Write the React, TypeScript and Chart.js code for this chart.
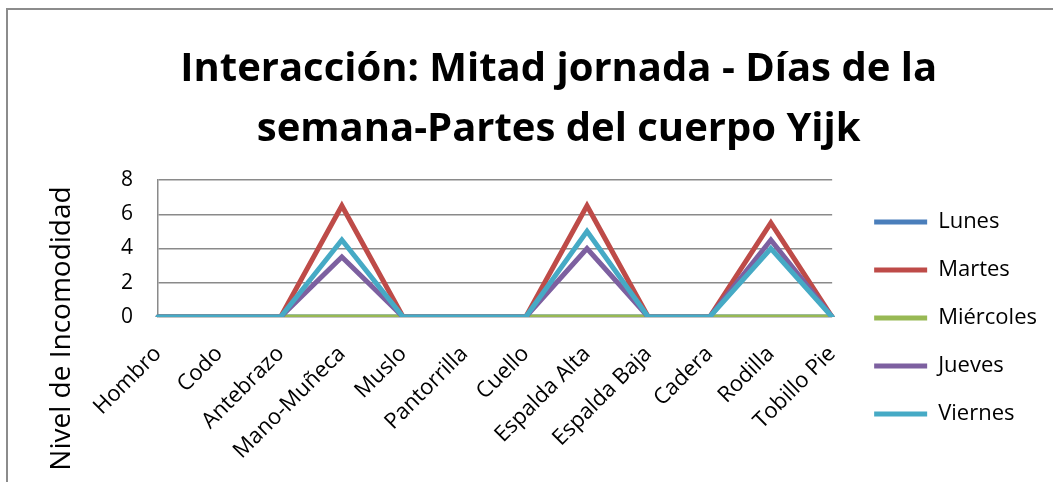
import React, { useEffect, useRef } from "react";
import { Chart, registerables } from "chart.js";

Chart.register(...registerables);

const categories = [
  "Hombro",
  "Codo",
  "Antebrazo",
  "Mano-Muñeca",
  "Muslo",
  "Pantorrilla",
  "Cuello",
  "Espalda Alta",
  "Espalda Baja",
  "Cadera",
  "Rodilla",
  "Tobillo Pie",
];

const lunes = [0, 0, 0, 0, 0, 0, 0, 0, 0, 0, 0, 0];
const martes = [0, 0, 0, 6.5, 0, 0, 0, 6.5, 0, 0, 5.5, 0];
const miercoles = [0, 0, 0, 0, 0, 0, 0, 0, 0, 0, 0, 0];
const jueves = [0, 0, 0, 3.5, 0, 0, 0, 4, 0, 0, 4.5, 0];
const viernes = [0, 0, 0, 4.5, 0, 0, 0, 5, 0, 0, 4, 0];

const seriesNames = ["Lunes", "Martes", "Miércoles", "Jueves", "Viernes"];
const seriesValues = [lunes, martes, miercoles, jueves, viernes];
const seriesColors = ["#4A7EBB", "#BE4B48", "#98B954", "#7D60A0", "#46AAC5"];

const yMin = 0;
const yMax = 8;
const yStep = 2;

const titleLines = ["Interacción: Mitad jornada - Días de la", "semana-Partes del cuerpo Yijk"];
const yAxisTitle = "Nivel de Incomodidad";

const FONT = "'Open Sans', Lato, sans-serif";

export default function App() {
  const canvasRef = useRef<HTMLCanvasElement | null>(null);

  useEffect(() => {
    if (!canvasRef.current) return;
    const n = seriesNames.length;
    const chart = new Chart(canvasRef.current, {
      type: "line",
      data: {
        labels: categories,
        datasets: seriesNames.map((name, i) => ({
          label: name,
          data: seriesValues[i],
          borderColor: seriesColors[i],
          backgroundColor: seriesColors[i],
          borderWidth: 5,
          borderJoinStyle: "miter" as const,
          borderCapStyle: "round" as const,
          pointRadius: 0,
          pointHoverRadius: 0,
          pointBorderWidth: 5,
          pointBorderColor: seriesColors[i],
          pointBackgroundColor: seriesColors[i],
          tension: 0,
          fill: false,
          order: n - 1 - i,
        })),
      },
      options: {
        responsive: false,
        animation: false,
        events: [],
        layout: { padding: { left: 0, right: 6, top: 0, bottom: 0 } },
        plugins: {
          title: {
            display: true,
            text: titleLines.map((t) => " ".repeat(6) + t),
            color: "#000",
            font: { family: FONT, size: 40, weight: "bold", lineHeight: 1.5 },
            padding: { top: 30, bottom: 20 },
          },
          legend: {
            display: true,
            position: "right",
            align: "start",
            reverse: true,
            maxWidth: 320,
            title: {
              display: true,
              text: "",
              font: { family: FONT, size: 10, lineHeight: 1.2 },
              padding: { top: 163, bottom: 0 },
            },
            labels: {
              usePointStyle: true,
              pointStyle: "line",
              pointStyleWidth: 53,
              boxHeight: 22,
              color: "#000",
              padding: 26,
              font: { family: FONT, size: 22 },
            },
          },
          tooltip: { enabled: false },
        },
        scales: {
          x: {
            type: "category",
            grid: { display: false, drawTicks: false },
            border: { display: false },
            ticks: {
              autoSkip: false,
              maxRotation: 45,
              minRotation: 45,
              color: "#000",
              padding: 24,
              font: { family: FONT, size: 22 },
            },
            afterFit: (s: any) => {
              s.height = 165;
            },
          },
          y: {
            type: "linear",
            min: yMin,
            max: yMax,
            ticks: {
              stepSize: yStep,
              color: "#000",
              padding: 25,
              font: { family: FONT, size: 21 },
            },
            grid: { color: "#8a8a8a", lineWidth: 1.5, drawTicks: false },
            border: { display: true, color: "#8a8a8a", width: 1.5 },
            title: {
              display: true,
              text: yAxisTitle + " ".repeat(22),
              color: "#000",
              font: { family: FONT, size: 28 },
              padding: { top: 37, bottom: 0 },
            },
            afterFit: (s: any) => {
              s.width = 150;
            },
          },
          yR: {
            type: "linear",
            position: "right",
            display: true,
            grid: { display: false, drawTicks: false },
            border: { display: false },
            ticks: { display: false },
            afterFit: (s: any) => {
              s.width = 16;
            },
          },
        },
      },
    });
    return () => chart.destroy();
  }, []);

  return (
    <div
      style={{
        position: "absolute",
        left: 6,
        top: 8,
        width: 1047,
        height: 474,
        boxSizing: "border-box",
        borderTop: "2px solid #8c8c8c",
        borderLeft: "2px solid #8c8c8c",
        background: "#fff",
      }}
    >
      <canvas ref={canvasRef} width={1045} height={472} style={{ display: "block" }} />
    </div>
  );
}
